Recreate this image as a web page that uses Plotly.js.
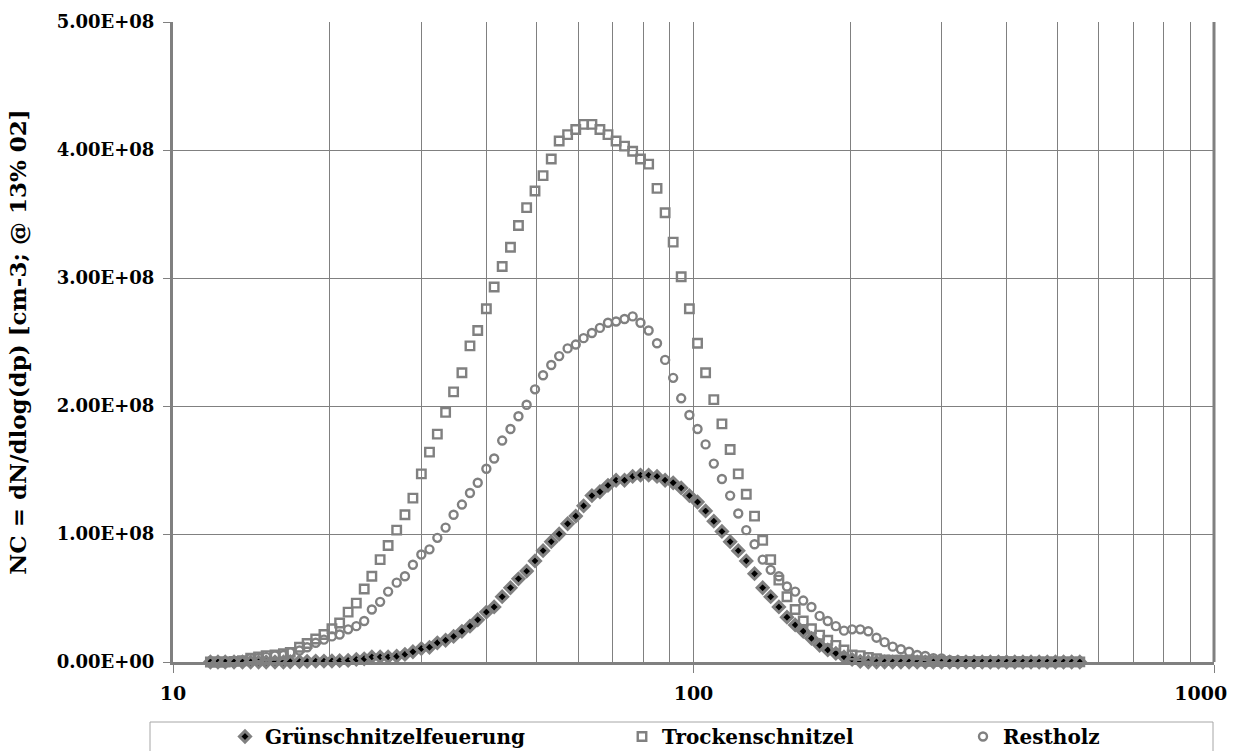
<!DOCTYPE html>
<html>
<head>
<meta charset="utf-8">
<script src="https://cdn.plot.ly/plotly-3.0.1.min.js"></script>
<style>html,body{margin:0;padding:0;background:#fff;}#chart{width:1255px;height:751px;}</style>
</head>
<body>
<div id="chart"></div>
<script>
// particle diameter dp [nm] (SMPS channel midpoints)
const diameters = [11.8, 12.2, 12.6, 13.1, 13.6, 14.1, 14.6, 15.1, 15.7, 16.3, 16.8, 17.5, 18.1, 18.8, 19.5, 20.2, 20.9, 21.7, 22.5, 23.3, 24.1, 25.0, 25.9, 26.9, 27.9, 28.9, 30.0, 31.1, 32.2, 33.4, 34.6, 35.9, 37.2, 38.5, 40.0, 41.4, 42.9, 44.5, 46.1, 47.8, 49.6, 51.4, 53.3, 55.2, 57.3, 59.4, 61.5, 63.8, 66.1, 68.5, 71.0, 73.7, 76.4, 79.1, 82.0, 85.1, 88.2, 91.4, 94.7, 98.2, 101.8, 105.5, 109.4, 113.4, 117.6, 121.9, 126.3, 131.0, 135.8, 140.7, 145.9, 151.2, 156.8, 162.5, 168.5, 174.7, 181.1, 187.7, 194.6, 201.7, 209.1, 216.7, 224.7, 232.9, 241.4, 250.3, 259.5, 269.0, 278.8, 289.0, 299.6, 310.6, 322.0, 333.8, 346.0, 358.7, 371.8, 385.4, 399.5, 414.2, 429.4, 445.1, 461.4, 478.3, 495.8, 514.0, 532.8, 552.3, 572.5];

// values in units of 1e8 cm-3
const gruenschnitzel = [0, 0, 0, 0, 0, 0, 0, 0, 0, 0, 0.002, 0.003, 0.005, 0.007, 0.007, 0.008, 0.01, 0.012, 0.02, 0.025, 0.04, 0.04, 0.04, 0.045, 0.06, 0.08, 0.105, 0.115, 0.15, 0.17, 0.20, 0.24, 0.28, 0.33, 0.39, 0.43, 0.51, 0.58, 0.65, 0.71, 0.79, 0.87, 0.94, 1.00, 1.08, 1.14, 1.22, 1.30, 1.33, 1.38, 1.42, 1.42, 1.45, 1.46, 1.46, 1.45, 1.42, 1.40, 1.36, 1.30, 1.25, 1.18, 1.10, 1.02, 0.94, 0.87, 0.79, 0.69, 0.58, 0.51, 0.43, 0.35, 0.29, 0.24, 0.185, 0.13, 0.094, 0.068, 0.04, 0.02, 0.005, 0, 0, 0, 0, 0, 0, 0, 0, 0, 0, 0, 0, 0, 0, 0, 0, 0, 0, 0, 0, 0, 0, 0, 0, 0, 0, 0];

const trockenschnitzel = [0, 0, 0, 0.005, 0.01, 0.03, 0.04, 0.05, 0.055, 0.065, 0.075, 0.115, 0.145, 0.18, 0.215, 0.26, 0.305, 0.39, 0.46, 0.57, 0.67, 0.80, 0.91, 1.03, 1.15, 1.28, 1.47, 1.64, 1.78, 1.95, 2.11, 2.26, 2.47, 2.59, 2.76, 2.93, 3.09, 3.24, 3.41, 3.55, 3.68, 3.80, 3.93, 4.07, 4.12, 4.16, 4.20, 4.20, 4.16, 4.12, 4.07, 4.03, 3.99, 3.93, 3.89, 3.70, 3.51, 3.28, 3.01, 2.76, 2.49, 2.26, 2.05, 1.86, 1.66, 1.47, 1.31, 1.14, 0.95, 0.80, 0.64, 0.51, 0.41, 0.32, 0.26, 0.21, 0.17, 0.13, 0.094, 0.055, 0.05, 0.035, 0.025, 0.016, 0.015, 0.014, 0.012, 0.01, 0.008, 0.006, 0.005, 0.004, 0.004, 0.003, 0.003, 0.003, 0.002, 0.002, 0.002, 0.002, 0.002, 0.001, 0.001, 0.001, 0.001, 0.001, 0.001, 0.001];

const restholz = [0.005, 0.005, 0.005, 0.005, 0.006, 0.03, 0.032, 0.04, 0.05, 0.055, 0.075, 0.09, 0.115, 0.15, 0.175, 0.20, 0.215, 0.255, 0.28, 0.32, 0.41, 0.47, 0.55, 0.62, 0.67, 0.76, 0.84, 0.88, 0.97, 1.05, 1.15, 1.23, 1.32, 1.40, 1.51, 1.59, 1.73, 1.82, 1.92, 2.01, 2.13, 2.24, 2.32, 2.39, 2.45, 2.48, 2.53, 2.57, 2.61, 2.65, 2.66, 2.68, 2.70, 2.65, 2.59, 2.49, 2.36, 2.22, 2.06, 1.93, 1.82, 1.70, 1.55, 1.43, 1.30, 1.16, 1.03, 0.92, 0.80, 0.72, 0.67, 0.59, 0.55, 0.48, 0.43, 0.36, 0.32, 0.28, 0.245, 0.255, 0.255, 0.24, 0.19, 0.155, 0.12, 0.10, 0.08, 0.055, 0.047, 0.03, 0.028, 0.015, 0.012, 0.01, 0.008, 0.008, 0.007, 0.007, 0.006, 0.006, 0.006, 0.005, 0.005, 0.005, 0.005, 0.005, 0.005, 0.005];

const seriesNames = ['Grünschnitzelfeuerung', 'Trockenschnitzel', 'Restholz'];
const yTickVals = [0, 1e8, 2e8, 3e8, 4e8, 5e8];
const yTickText = ['0.00E+00', '1.00E+08', '2.00E+08', '3.00E+08', '4.00E+08', '5.00E+08'];
const xMajorVals = [10, 100, 1000];
const xMajorText = ['10', '100', '1000'];
const xMinorVals = [20, 30, 40, 50, 60, 70, 80, 90, 200, 300, 400, 500, 600, 700, 800, 900];
const yTitle = 'NC = dN/dlog(dp) [cm-3; @ 13% 02]';

const scale = v => v.map(a => a * 1e8);
const GRAY = '#808080';
const FONT = 'DejaVu Serif';
const NBSP = '\u00a0';
// the last x label sits inside the chart edge, as in the original
const xTickTextShown = xMajorText.map((t, i) => i === xMajorText.length - 1 ? t + NBSP.repeat(4) : t);

const traces = [
  {x: diameters, y: scale(gruenschnitzel), name: seriesNames[0], legend: 'legend', type: 'scatter', mode: 'markers', cliponaxis: false,
   marker: {symbol: 'diamond', size: 8.5, color: '#000000', line: {color: GRAY, width: 3}}},
  {x: diameters, y: scale(trockenschnitzel), name: seriesNames[1], legend: 'legend2', type: 'scatter', mode: 'markers', cliponaxis: false,
   marker: {symbol: 'square-open', size: 8.5, color: GRAY, line: {color: GRAY, width: 2.4}}},
  {x: diameters, y: scale(restholz), name: seriesNames[2], legend: 'legend3', type: 'scatter', mode: 'markers', cliponaxis: false,
   marker: {symbol: 'circle-open', size: 8, color: GRAY, line: {color: GRAY, width: 2.4}}}
];

const L = 173, R = 1214, T = 22, B = 662;
const W = R - L, H = B - T;
const px2x = p => (p - L) / W;
const px2y = p => (B - p) / H;

const legendBase = px => ({
  orientation: 'h', x: px2x(px), xanchor: 'left', y: px2y(717), yanchor: 'top',
  bgcolor: 'rgba(0,0,0,0)', borderwidth: 0,
  font: {family: FONT, size: 20, weight: 'bold', color: '#000'}
});

const layout = {
  width: 1255, height: 751,
  margin: {l: L, r: 1255 - R, t: T, b: 751 - B, autoexpand: false},
  paper_bgcolor: '#ffffff', plot_bgcolor: '#ffffff',
  showlegend: true,
  font: {family: FONT, color: '#000000'},
  xaxis: {
    type: 'log', range: [1, 3], autorange: false,
    tickmode: 'array', tickvals: xMajorVals, ticktext: xTickTextShown,
    tickfont: {family: FONT, size: 19, weight: 'bold', color: '#000'},
    ticks: 'outside', ticklen: 8, tickwidth: 1, tickcolor: GRAY, ticklabelstandoff: 4,
    ticklabeloverflow: 'allow',
    showgrid: true, gridcolor: GRAY, gridwidth: 1,
    minor: {tickmode: 'array', tickvals: xMinorVals, showgrid: true, gridcolor: GRAY, gridwidth: 1, ticks: ''},
    showline: true, linecolor: GRAY, linewidth: 3, zeroline: false,
    fixedrange: true
  },
  yaxis: {
    range: [0, 5e8], autorange: false,
    tickmode: 'array', tickvals: yTickVals, ticktext: yTickText,
    tickfont: {family: FONT, size: 18, weight: 'bold', color: '#000'},
    ticks: 'outside', ticklen: 7, tickwidth: 1, tickcolor: GRAY, ticklabelstandoff: 5,
    showgrid: true, gridcolor: GRAY, gridwidth: 1,
    showline: true, linecolor: GRAY, linewidth: 3, zeroline: false,
    title: {text: yTitle, font: {family: FONT, size: 23, weight: 'bold', color: '#000'}, standoff: 24},
    fixedrange: true
  },
  legend: legendBase(225),
  legend2: legendBase(622),
  legend3: legendBase(963),
  shapes: [
    {type: 'line', xref: 'paper', yref: 'paper', x0: 1, x1: 1, y0: 0, y1: 1, line: {color: GRAY, width: 3}},
    {type: 'rect', xref: 'paper', yref: 'paper', x0: px2x(150), x1: px2x(1213), y0: px2y(722), y1: px2y(770),
     line: {color: '#a6a6a6', width: 1}, fillcolor: 'rgba(0,0,0,0)', layer: 'below'}
  ]
};

Plotly.newPlot('chart', traces, layout, {displayModeBar: false, staticPlot: true});
</script>
</body>
</html>
